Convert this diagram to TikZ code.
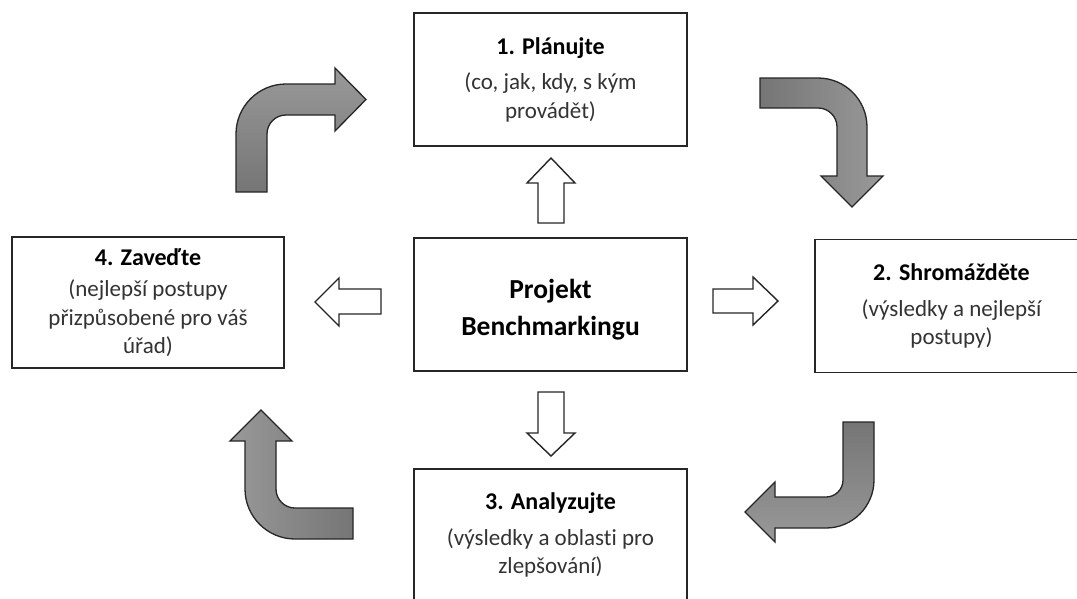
\documentclass[tikz,border=0pt]{standalone}
\usepackage{fontspec}
\setmainfont{Carlito}[Ligatures=NoCommon]
\begin{document}
\begin{tikzpicture}[x=1pt,y=-1pt,
  box/.style={draw=black!85, line width=1.5pt, fill=white, minimum width=273pt, minimum height=133pt, inner sep=0pt, align=center, font=\fontsize{23}{28.5}\selectfont, text=black!80},
  whitearrow/.style={draw=black!85, line width=1.4pt, fill=white, line join=miter},
  bentarrow/.style={draw=black!85, line width=1.3pt, line join=miter}
]
\newcommand\hdtext[1]{{\fontsize{24}{29}\selectfont\bfseries\color{black}#1}}
\useasboundingbox (0,0) rectangle (1077,598);
\clip (0,0) rectangle (1077,598);
\fill[white] (0,0) rectangle (1077,598);

% boxes
\node[box] (plan) at (550.5,79.5) {\hdtext{1. Plánujte}\\[7pt](co, jak, kdy, s kým\\provádět)};
\node[box] (proj) at (550.5,304.5) {};
\node[font=\fontsize{27.5}{37}\selectfont\bfseries, align=center, inner sep=0pt] (projt) at (550.5,310) {Projekt\\Benchmarkingu};
\node[box] (coll) at (951.5,306) {\hdtext{2. Shromážděte}\\[7pt](výsledky a nejlepší\\postupy)};
\node[box, minimum width=272pt, minimum height=131pt] (impl) at (148,302.5) {\hdtext{4. Zaveďte}\\[3pt](nejlepší postupy\\přizpůsobené pro váš\\úřad)};
\node[box] (anal) at (550.5,535.5) {\hdtext{3. Analyzujte}\\[7pt](výsledky a oblasti pro\\zlepšování)\rule[-4pt]{0pt}{4pt}};

% white block arrows from the centre box
\draw[whitearrow] (538,223) -- (538,183) -- (527,183) -- (551,158) -- (575,183) -- (564,183) -- (564,223) -- cycle;
\draw[whitearrow] (538,392) -- (564,392) -- (564,433) -- (575,433) -- (551,456) -- (527,433) -- (538,433) -- cycle;
\draw[whitearrow] (381,289) -- (339,289) -- (339,278) -- (315,302) -- (339,326) -- (339,314) -- (381,314) -- cycle;
\draw[whitearrow] (713,289) -- (753,289) -- (753,277) -- (778,301) -- (753,325) -- (753,313) -- (713,313) -- cycle;

% bent arrows
\draw[bentarrow, top color=black!40, bottom color=black!54]
  (236,192) -- (236,134) .. controls (236,106.4) and (258.4,84) .. (286,84)
  -- (335,84) -- (335,68) -- (366,99.5) -- (335,131) -- (335,115) -- (286,115)
  .. controls (275.5,115) and (267,123.5) .. (267,134) -- (267,192) -- cycle;
\draw[bentarrow, left color=black!54, right color=black!40]
  (760,108) -- (760,78) -- (818,78) .. controls (845.1,78) and (867,99.9) .. (867,127)
  -- (867,176) -- (883,176) -- (852,207) -- (821,176) -- (837,176) -- (837,127)
  .. controls (837,116.5) and (828.5,108) .. (818,108) -- cycle;
\draw[bentarrow, top color=black!54, bottom color=black!40]
  (843,422) -- (874,422) -- (874,480) .. controls (874,506.5) and (852.5,528) .. (826,528)
  -- (775,528) -- (775,542) -- (745,512) -- (775,482) -- (775,497) -- (826,497)
  .. controls (835.4,497) and (843,489.4) .. (843,480) -- cycle;
\draw[bentarrow, left color=black!40, right color=black!54]
  (353,539) -- (295,539) .. controls (267.4,539) and (245,516.6) .. (245,489)
  -- (245,441) -- (230,441) -- (261,410) -- (292,441) -- (276,441) -- (276,489)
  .. controls (276,499.5) and (284.5,508) .. (295,508) -- (353,508) -- cycle;
\end{tikzpicture}
\end{document}
